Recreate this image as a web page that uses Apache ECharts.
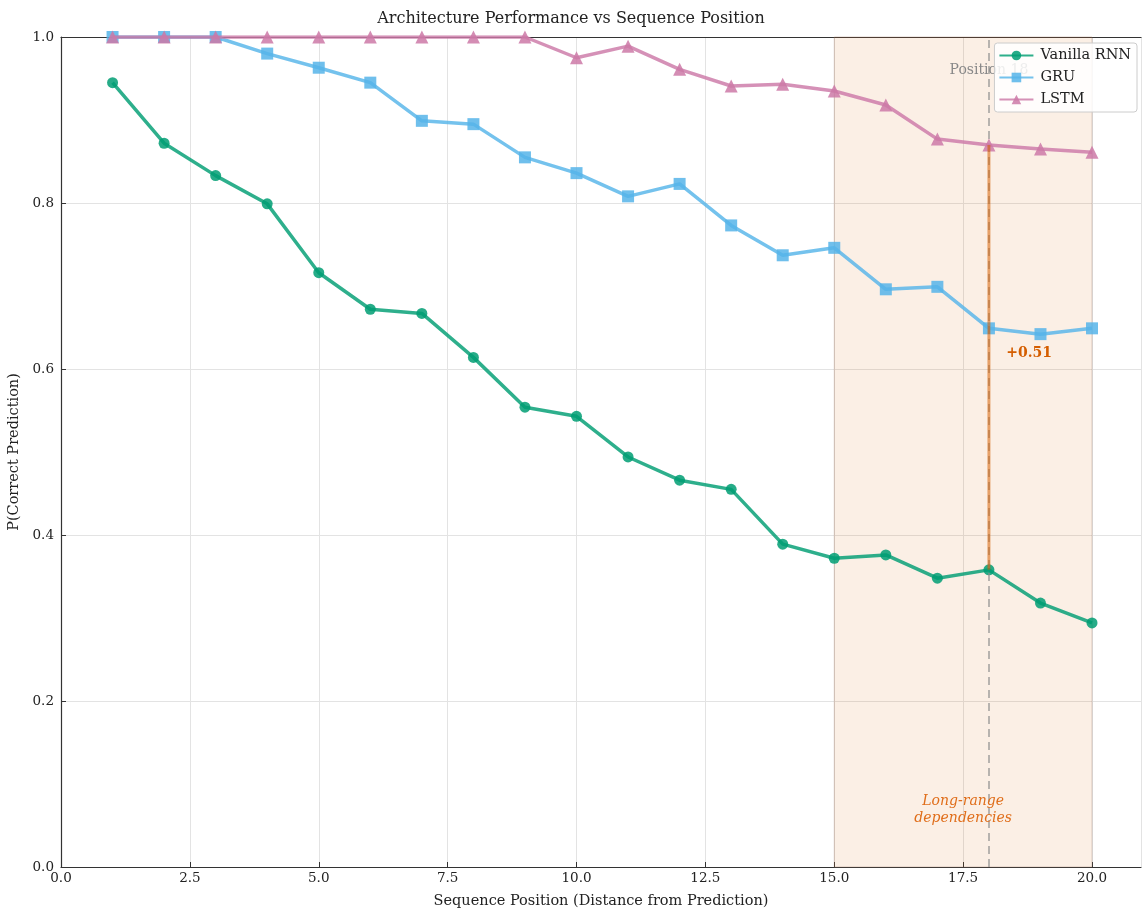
<!DOCTYPE html>
<html>
<head>
<meta charset="utf-8">
<script src="https://cdn.jsdelivr.net/npm/echarts@6/dist/echarts.min.js"></script>
<style>
  html, body { margin: 0; padding: 0; background: #fff; }
  #chart { width: 1142px; height: 910px; }
</style>
</head>
<body>
<div id="chart"></div>
<script>
var positions = [1, 2, 3, 4, 5, 6, 7, 8, 9, 10, 11, 12, 13, 14, 15, 16, 17, 18, 19, 20];
var rnnVals = [0.945, 0.872, 0.833, 0.799, 0.716, 0.672, 0.667, 0.614, 0.554, 0.543,
               0.494, 0.466, 0.455, 0.389, 0.372, 0.376, 0.348, 0.358, 0.318, 0.294];
var gruVals = [1.0, 1.0, 1.0, 0.980, 0.963, 0.945, 0.899, 0.895, 0.855, 0.836,
               0.808, 0.823, 0.773, 0.737, 0.746, 0.696, 0.699, 0.649, 0.642, 0.649];
var lstmVals = [1.0, 1.0, 1.0, 1.0, 1.0, 1.0, 1.0, 1.0, 1.0, 0.975,
                0.989, 0.961, 0.941, 0.943, 0.935, 0.918, 0.877, 0.870, 0.865, 0.861];
var seriesNames = ['Vanilla RNN', 'GRU', 'LSTM'];
var regionStart = 15, regionEnd = 20;
var focusPos = 18;

var FONT = 'DejaVu Serif';
var chart = echarts.init(document.getElementById('chart'));

function pairs(vals) {
  return positions.map(function(x, i) { return [x, vals[i]]; });
}

var fi = positions.indexOf(focusPos);
var gap = lstmVals[fi] - rnnVals[fi];

// text annotations placed at data coords (invisible point + label)
function note(coord, text, style) {
  var lbl = { show: true, position: 'inside', formatter: text, fontFamily: FONT, fontSize: 14 };
  Object.keys(style).forEach(function(k) { lbl[k] = style[k]; });
  return { coord: coord, symbol: 'circle', symbolSize: 1, itemStyle: { color: 'rgba(0,0,0,0)' }, label: lbl };
}

var tickFmt = function(v) { return v.toFixed(1); };

chart.setOption({
  animation: false,
  textStyle: { fontFamily: FONT },
  title: {
    text: 'Architecture Performance vs Sequence Position',
    left: 'center', top: 6,
    textStyle: { fontFamily: FONT, fontSize: 16, fontWeight: 'normal', color: '#222' }
  },
  grid: { left: 61, right: 1, top: 37, bottom: 43, outerBoundsMode: 'none', containLabel: false },
  legend: {
    right: 5, top: 43, z: 20,
    orient: 'vertical',
    data: seriesNames,
    itemWidth: 34, itemHeight: 12, itemGap: 7,
    padding: [5, 6, 5, 4],
    backgroundColor: 'rgba(255,255,255,0.85)',
    borderColor: '#cccccc', borderWidth: 1, borderRadius: 3,
    textStyle: { fontFamily: FONT, fontSize: 14.5, color: '#222', padding: [0, 0, 0, 2] }
  },
  xAxis: [{
    type: 'value', min: 0, max: 20.95, interval: 2.5,
    name: 'Sequence Position (Distance from Prediction)',
    nameLocation: 'middle', nameGap: 27,
    nameTextStyle: { fontFamily: FONT, fontSize: 14.5, color: '#222' },
    axisLine: { lineStyle: { color: '#333', width: 1.2 } },
    axisTick: { show: true, inside: true, length: 5, lineStyle: { color: '#333' } },
    axisLabel: { fontFamily: FONT, fontSize: 13.5, color: '#222', margin: 4, showMaxLabel: false, formatter: tickFmt },
    splitLine: { show: true, lineStyle: { color: '#e3e3e3', width: 1 } }
  }, {
    // top spine only
    type: 'value', position: 'top', min: 0, max: 20.95,
    axisLine: { show: true, lineStyle: { color: '#333', width: 1.2 } },
    axisTick: { show: false }, axisLabel: { show: false }, splitLine: { show: false }
  }],
  yAxis: {
    type: 'value', min: 0, max: 1, interval: 0.2,
    name: 'P(Correct Prediction)',
    nameLocation: 'middle', nameGap: 38, nameRotate: 90,
    nameTextStyle: { fontFamily: FONT, fontSize: 14.5, color: '#222' },
    axisLine: { show: true, lineStyle: { color: '#333', width: 1.2 } },
    axisTick: { show: true, inside: true, length: 5, lineStyle: { color: '#333' } },
    axisLabel: { fontFamily: FONT, fontSize: 13.5, color: '#222', margin: 7, formatter: tickFmt },
    splitLine: { show: true, lineStyle: { color: '#e3e3e3', width: 1 } }
  },
  series: [
    {
      name: 'Vanilla RNN', type: 'line', data: pairs(rnnVals),
      symbol: 'circle', symbolSize: 11, z: 3,
      lineStyle: { color: '#009E73', width: 3.5, opacity: 0.82 },
      itemStyle: { color: '#009E73', opacity: 0.85 },
      markArea: {
        silent: true,
        itemStyle: { color: 'rgba(213,94,0,0.1)', borderColor: 'rgba(150,110,90,0.3)', borderWidth: 1 },
        data: [[{ xAxis: regionStart }, { xAxis: regionEnd }]]
      },
      markLine: {
        silent: true, symbol: 'none',
        lineStyle: { color: '#8a8a8a', type: [8, 5], width: 2, opacity: 0.6 },
        label: { show: false },
        data: [{ xAxis: focusPos }]
      },
      markPoint: {
        silent: true,
        data: [
          note([focusPos, 0.96], 'Position ' + focusPos, { color: '#888' }),
          note([(regionStart + regionEnd) / 2, 0.069], 'Long-range\ndependencies',
               { color: '#E06E1A', fontStyle: 'italic', align: 'center', lineHeight: 17 }),
          note([focusPos + 0.78, 0.619], '+' + gap.toFixed(2),
               { color: '#D55E00', fontWeight: 'bold' })
        ]
      }
    },
    {
      name: 'GRU', type: 'line', data: pairs(gruVals),
      symbol: 'rect', symbolSize: 12, z: 4,
      lineStyle: { color: '#56B4E9', width: 3.5, opacity: 0.82 },
      itemStyle: { color: '#56B4E9', opacity: 0.85 }
    },
    {
      name: 'LSTM', type: 'line', data: pairs(lstmVals),
      symbol: 'triangle', symbolSize: 13, z: 5,
      lineStyle: { color: '#CC79A7', width: 3.5, opacity: 0.82 },
      itemStyle: { color: '#CC79A7', opacity: 0.85 }
    },
    {
      name: 'gap', type: 'line',
      data: [[focusPos, rnnVals[fi]], [focusPos, lstmVals[fi]]],
      symbol: 'none', z: 6, silent: true,
      lineStyle: { color: '#D55E00', width: 3, opacity: 0.55 }
    }
  ]
});
</script>
</body>
</html>
